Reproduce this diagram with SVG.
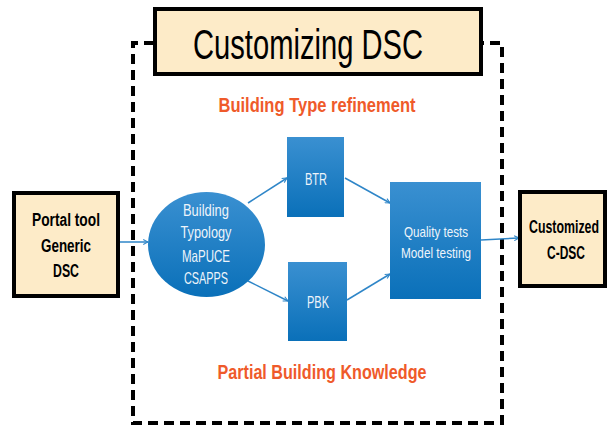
<svg xmlns="http://www.w3.org/2000/svg" width="607" height="428" viewBox="0 0 607 428">
<style>
.frame{fill:none;stroke:#000;stroke-width:4;stroke-dasharray:10 6}
.beige{fill:#FDEBC8;stroke:#000;stroke-width:4}
.blue{fill:url(#bg)}
.conn{stroke:#2F86C8;stroke-width:1.5;fill:none;marker-end:url(#ah)}
.lbl{font-family:"Liberation Sans",Arial,sans-serif;text-anchor:middle}
.wt{fill:#EEF4FA;font-size:15px}
.wl{fill:#EEF4FA;font-size:16.5px}
.bk{fill:#000;font-size:17.5px;font-weight:bold}
.or{fill:#EF5A2A;font-size:19.5px;font-weight:bold}
</style>
<defs>
<linearGradient id="bg" x1="0" y1="0" x2="0" y2="1">
<stop offset="0" stop-color="#3A90D1"/>
<stop offset="1" stop-color="#0A70B9"/>
</linearGradient>
<marker id="ah" viewBox="0 0 10 10" refX="9" refY="5" markerWidth="6" markerHeight="6" orient="auto" markerUnits="userSpaceOnUse">
<path d="M1,1 L9,5 L1,9" fill="none" stroke="#2F86C8" stroke-width="1.8"/>
</marker>
</defs>
<rect width="607" height="428" fill="#fff"/>
<g id="frame">
<path class="frame" d="M154,43 H133 V423 H502 V43 H481"/>
</g>
<g id="title">
<rect class="beige" x="155" y="9" width="326" height="65"/>
<text class="lbl" x="308" y="59" font-size="43" textLength="230" lengthAdjust="spacingAndGlyphs">Customizing DSC</text>
</g>
<g id="label-btr">
<text class="lbl or" x="317" y="112" textLength="197" lengthAdjust="spacingAndGlyphs">Building Type refinement</text>
</g>
<g id="label-pbk">
<text class="lbl or" x="322" y="379" textLength="209" lengthAdjust="spacingAndGlyphs">Partial Building Knowledge</text>
</g>
<g id="connectors">
<line class="conn" x1="118" y1="242" x2="148" y2="242"/>
<line class="conn" x1="248" y1="203" x2="287" y2="178"/>
<line class="conn" x1="248" y1="281" x2="288" y2="301"/>
<line class="conn" x1="345" y1="178" x2="390" y2="203"/>
<line class="conn" x1="347" y1="300" x2="390" y2="274"/>
<line class="conn" x1="481" y1="240" x2="519" y2="238"/>
</g>
<g id="portal">
<rect class="beige" x="14" y="193" width="104" height="103"/>
<text class="lbl bk" x="66" y="226" textLength="68" lengthAdjust="spacingAndGlyphs">Portal tool</text>
<text class="lbl bk" x="66" y="252" textLength="50" lengthAdjust="spacingAndGlyphs">Generic</text>
<text class="lbl bk" x="66" y="277" textLength="26" lengthAdjust="spacingAndGlyphs">DSC</text>
</g>
<g id="typology">
<ellipse class="blue" cx="206.5" cy="244.5" rx="58.5" ry="52.5"/>
<text class="lbl wl" x="206" y="216" textLength="46" lengthAdjust="spacingAndGlyphs">Building</text>
<text class="lbl wl" x="206" y="238" textLength="51" lengthAdjust="spacingAndGlyphs">Typology</text>
<text class="lbl wl" x="206" y="262" textLength="48" lengthAdjust="spacingAndGlyphs">MaPUCE</text>
<text class="lbl wl" x="206" y="284" textLength="44" lengthAdjust="spacingAndGlyphs">CSAPPS</text>
</g>
<g id="btr">
<rect class="blue" x="287" y="137" width="57" height="80"/>
<text class="lbl wl" x="316" y="185" textLength="22" lengthAdjust="spacingAndGlyphs">BTR</text>
</g>
<g id="pbk">
<rect class="blue" x="288" y="262" width="59" height="79"/>
<text class="lbl wl" x="318" y="308" textLength="22" lengthAdjust="spacingAndGlyphs">PBK</text>
</g>
<g id="quality">
<rect class="blue" x="390" y="182" width="91" height="117"/>
<text class="lbl wt" x="436" y="237" textLength="64" lengthAdjust="spacingAndGlyphs">Quality tests</text>
<text class="lbl wt" x="436" y="258" textLength="70" lengthAdjust="spacingAndGlyphs">Model testing</text>
</g>
<g id="customized">
<rect class="beige" x="520" y="192" width="85" height="94"/>
<text class="lbl bk" x="564" y="233" textLength="70" lengthAdjust="spacingAndGlyphs">Customized</text>
<text class="lbl bk" x="566" y="259" textLength="38" lengthAdjust="spacingAndGlyphs">C-DSC</text>
</g>
</svg>
